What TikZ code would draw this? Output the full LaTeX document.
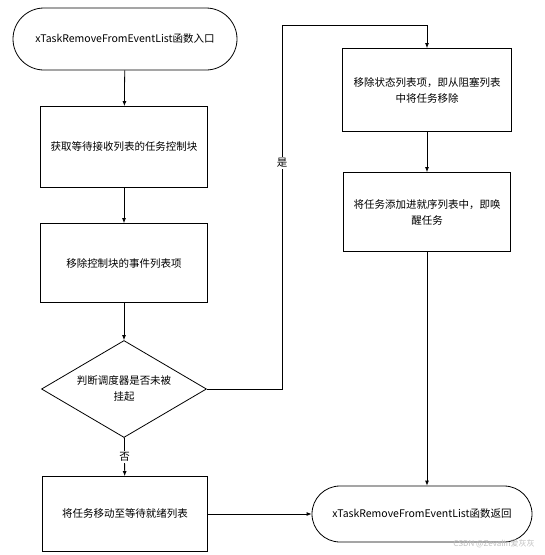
\documentclass[tikz,border=0pt]{standalone}
\usepackage{fontspec}
\setmainfont{Noto Sans CJK SC}
\usetikzlibrary{calc, arrows.meta, shapes.geometric}
\tikzset{
    base/.style={draw, line width=0.8pt, align=center, inner sep=2pt, font=\fontsize{10.5pt}{16pt}\selectfont},
    term/.style={base, rounded corners=#1, minimum height=2*#1},
    proc/.style={base, minimum width=167pt},
    decide/.style={base, diamond, aspect=1.7, minimum width=165pt, minimum height=97pt, inner sep=0pt},
    flow/.style={-{Latex[length=5pt,width=4pt]}, line width=0.8pt},
    tag/.style={fill=white, inner sep=1.5pt, font=\fontsize{10.5pt}{12pt}\selectfont}
}

\begin{document}
\begin{tikzpicture}[x=1pt,y=-1pt]
    \useasboundingbox (0,0) rectangle (545,555);
    % left column
    \node[term=31pt, minimum width=224pt] (start) at (125,39) {xTaskRemoveFromEventList函数入口};
    \node[proc, minimum height=81pt] (fetch) at (124,147) {获取等待接收列表的任务控制块};
    \node[proc, minimum height=79pt] (unlink) at (124,263) {移除控制块的事件列表项};
    \node[decide] (sched) at (124,389) {判断调度器是否未被\\挂起};
    \node[proc, minimum width=165pt, minimum height=75pt] (pend) at (125,514) {将任务移动至等待就绪列表};
    % right column
    \node[proc, minimum width=169pt, minimum height=83pt] (unblock) at (427,90) {移除状态列表项，即从阻塞列表\\中将任务移除};
    \node[proc, minimum height=79pt] (wake) at (427,212) {将任务添加进就序列表中，即唤\\醒任务};
    \node[term=28pt, minimum width=220pt] (finish) at (422,514) {xTaskRemoveFromEventList函数返回};

    \coordinate (turn) at (282,25);

    \draw[flow] (start) -- (fetch);
    \draw[flow] (fetch) -- (unlink);
    \draw[flow] (unlink) -- (sched);
    \draw[flow] (sched) -- node[tag] (no) {否} (pend);
    \draw[flow] (sched.east) -| (turn) -| (unblock.north);
    \node[tag] (yes) at (282,163) {是};
    \draw[flow] (unblock) -- (wake);
    \draw[flow] (wake.south) -- (wake.south |- finish.north);
    \draw[flow] (pend) -- (finish);

    \node[text=black!25, font=\fontsize{8pt}{9pt}\selectfont] (mark) at (494,544) {CSDN @Zevalin爱灰灰};
\end{tikzpicture}
\end{document}
